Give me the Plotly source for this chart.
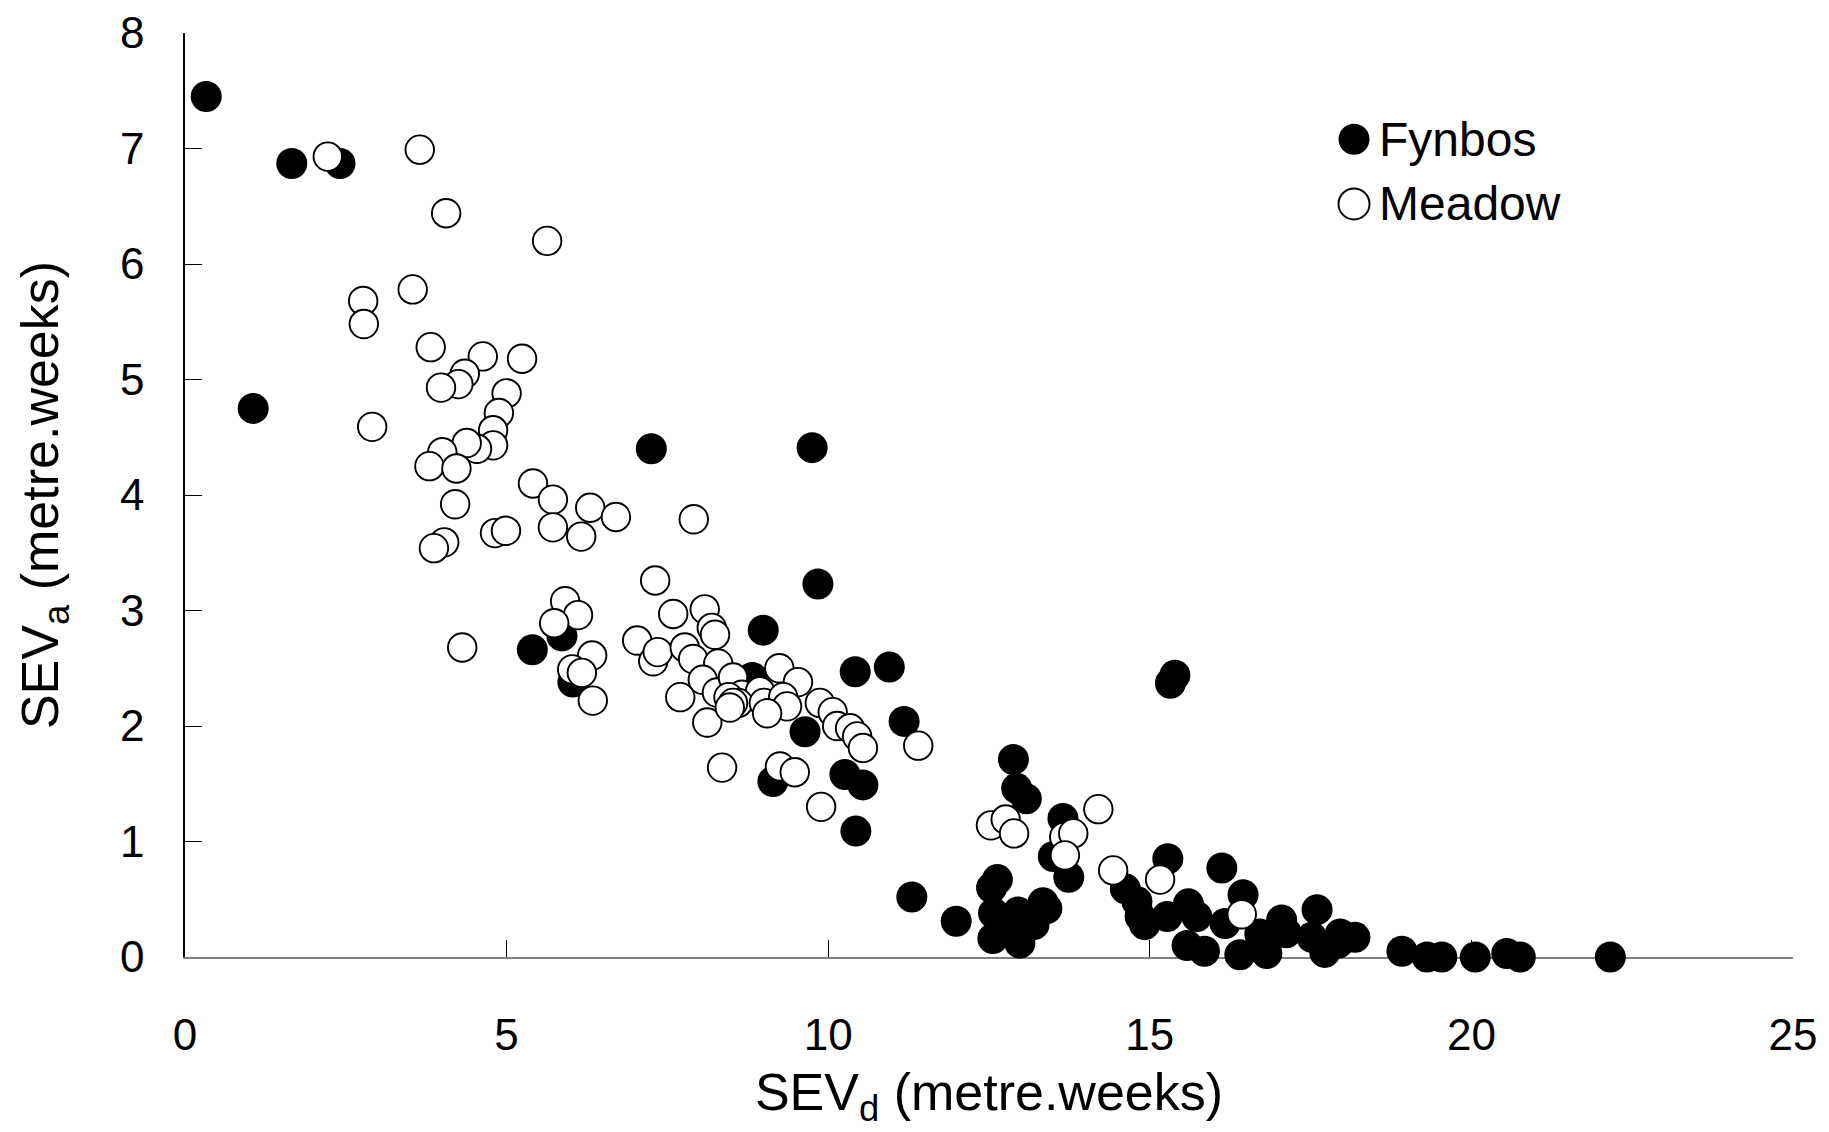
import plotly.graph_objects as go

# ---- data ----
fynbos_x = [0.33, 1.66, 2.41, 1.06, 7.25, 9.75, 9.84, 5.40, 5.86, 6.03, 8.99, 8.82, 10.42, 10.95,
            9.64, 11.18, 10.26, 9.14, 10.54, 10.43, 11.30, 11.99, 15.32, 15.39, 12.88, 12.93, 13.08,
            13.65, 13.50, 13.74, 12.63, 12.54, 12.57, 12.56, 12.98, 12.95, 13.17, 13.34, 13.40, 12.78,
            13.20, 14.62, 14.80, 14.85, 14.92, 15.28, 15.27, 15.60, 15.73, 15.58, 15.85, 16.12, 16.45,
            16.17, 16.40, 16.71, 16.82, 17.05, 17.12, 17.60, 17.52, 17.72, 17.96, 17.93, 18.19, 18.92,
            19.31, 19.54, 20.06, 20.55, 20.76, 22.16]
fynbos_y = [7.45, 6.87, 6.87, 4.75, 4.40, 4.41, 3.23, 2.66, 2.78, 2.38, 2.83, 2.42, 2.47, 2.51,
            1.95, 2.04, 1.58, 1.52, 1.49, 1.09, 0.52, 0.31, 2.37, 2.44, 1.71, 1.46, 1.37,
            1.20, 0.87, 0.69, 0.67, 0.60, 0.38, 0.16, 0.12, 0.39, 0.32, 0.47, 0.42, 0.25,
            0.28, 0.59, 0.48, 0.35, 0.28, 0.85, 0.35, 0.46, 0.35, 0.10, 0.05, 0.77, 0.54,
            0.29, 0.02, 0.20, 0.03, 0.32, 0.21, 0.41, 0.17, 0.04, 0.20, 0.12, 0.17, 0.05,
            0.00, 0.00, 0.00, 0.03, 0.00, 0.00]

meadow_x = [2.22, 3.65, 4.06, 5.63, 3.54, 2.77, 2.78, 3.82, 4.63, 5.24, 4.35, 4.25, 3.98, 5.00,
            4.88, 4.79, 4.79, 4.54, 4.38, 4.00, 3.80, 4.22, 2.91, 4.20, 5.41, 5.72, 6.30, 6.70,
            5.72, 6.16, 7.91, 4.82, 4.99, 4.03, 3.87, 7.31, 4.31, 5.91, 6.11, 5.74, 6.33, 6.02,
            6.17, 6.34, 7.03, 7.28, 7.35, 7.59, 8.08, 8.19, 8.24, 7.70, 7.77, 7.90, 8.29, 8.05,
            8.27, 8.52, 8.66, 8.94, 8.45, 8.60, 8.52, 9.00, 9.24, 9.53, 9.30, 9.36, 9.05, 8.12,
            8.47, 9.87, 10.07, 10.14, 10.34, 10.45, 10.54, 11.40, 8.35, 9.25, 9.48, 9.89, 12.53,
            12.76, 12.89, 13.67, 13.81, 13.68, 14.20, 14.43, 15.16, 16.43]
meadow_y = [6.93, 6.99, 6.44, 6.20, 5.78, 5.68, 5.48, 5.28, 5.20, 5.18, 5.05, 4.96, 4.93, 4.88,
            4.71, 4.56, 4.43, 4.40, 4.45, 4.37, 4.25, 4.23, 4.59, 3.92, 4.10, 3.96, 3.89, 3.81,
            3.72, 3.64, 3.79, 3.67, 3.69, 3.59, 3.54, 3.26, 2.68, 3.08, 2.96, 2.89, 2.61, 2.49,
            2.46, 2.22, 2.74, 2.56, 2.64, 2.97, 3.01, 2.85, 2.79, 2.25, 2.68, 2.58, 2.54, 2.40,
            2.29, 2.42, 2.27, 2.30, 2.25, 2.20, 2.20, 2.20, 2.50, 2.38, 2.25, 2.17, 2.11, 2.03,
            2.16, 2.20, 2.12, 2.00, 1.98, 1.91, 1.81, 1.83, 1.64, 1.65, 1.60, 1.30, 1.14,
            1.19, 1.07, 1.04, 1.07, 0.88, 1.28, 0.75, 0.67, 0.37]

x_ticks = [0, 5, 10, 15, 20, 25]
y_ticks = [0, 1, 2, 3, 4, 5, 6, 7, 8]
series_names = ["Fynbos", "Meadow"]

FONT = "Arial, 'Liberation Sans', sans-serif"

fig = go.Figure()
fig.add_trace(go.Scatter(
    x=fynbos_x, y=fynbos_y, mode="markers", name=series_names[0],
    marker=dict(size=31, color="black", line=dict(width=0)),
    cliponaxis=False, showlegend=False))
fig.add_trace(go.Scatter(
    x=meadow_x, y=meadow_y, mode="markers", name=series_names[1],
    marker=dict(size=28.5, color="white", line=dict(width=1.9, color="black")),
    cliponaxis=False, showlegend=False))

# legend drawn as shapes + text so symbols keep full marker size
leg_x = 0.727
leg_y = [0.885, 0.815]
styles = [dict(fillcolor="black", line=dict(width=0)),
          dict(fillcolor="white", line=dict(width=1.9, color="black"))]
for name, yy, st in zip(series_names, leg_y, styles):
    fig.add_shape(type="circle", xref="paper", yref="paper",
                  xsizemode="pixel", ysizemode="pixel",
                  xanchor=leg_x, yanchor=yy, x0=-15.5, x1=15.5, y0=-15.5, y1=15.5, **st)
    fig.add_annotation(x=leg_x + 0.014, y=yy, xref="paper", yref="paper",
                       text=name, showarrow=False, xanchor="left", yanchor="middle",
                       font=dict(size=48, color="black", family=FONT))

fig.update_layout(
    width=1829, height=1132,
    margin=dict(l=177, r=44, t=25, b=183),
    plot_bgcolor="white", paper_bgcolor="white",
    font=dict(family=FONT, color="black", size=44),
)
fig.update_xaxes(
    range=[0, 25], tickvals=x_ticks, showgrid=False, zeroline=False, automargin=False,
    showline=True, linecolor="#808080", linewidth=1.5, layer="below traces",
    ticks="inside", ticklen=17, tickcolor="black", tickwidth=1,
    tickfont=dict(size=44), ticklabelstandoff=38,
    title=dict(text="SEV<sub>d</sub> (metre.weeks)", font=dict(size=52), standoff=16),
)
fig.update_yaxes(
    range=[0, 8], tickvals=y_ticks, showgrid=False, zeroline=False, automargin=False,
    showline=True, linecolor="black", linewidth=1.5, layer="below traces",
    ticks="inside", ticklen=17, tickcolor="black", tickwidth=1,
    tickfont=dict(size=44), ticklabelstandoff=30,
    title=dict(text="SEV<sub>a</sub> (metre.weeks)", font=dict(size=52), standoff=45),
)

fig.write_html("out.html")
